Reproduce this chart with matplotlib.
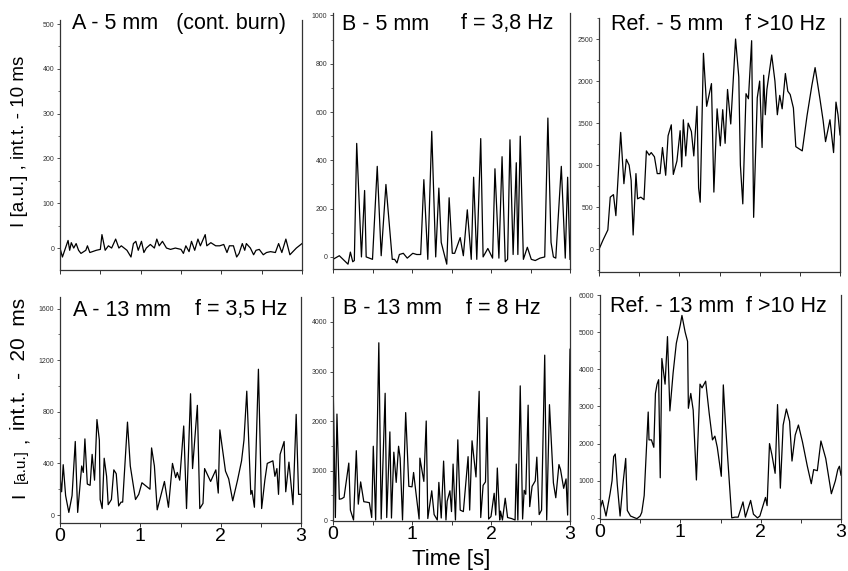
"""Six flame-intensity traces: A, B and reference at 5 mm and 13 mm."""

import matplotlib

matplotlib.use("Agg")
import matplotlib.pyplot as plt
from matplotlib.ticker import MultipleLocator

plt.rcParams["font.family"] = ["Liberation Sans", "DejaVu Sans"]

W, H = 848, 571

# ---- data (time in s, intensity in a.u.) ----
a5_t = [0, .03, .10, .12, .14, .17, .20, .23, .26, .32,
        .34, .37, .45, .50, .52, .56, .60, .64, .69, .73,
        .76, .83, .88, .91, .94, .97, 1.01, 1.04, 1.07, 1.12,
        1.17, 1.20, 1.23, 1.27, 1.32, 1.37, 1.43, 1.50, 1.53, 1.56,
        1.60, 1.63, 1.67, 1.71, 1.74, 1.80, 1.82, 1.87, 1.93, 1.98,
        2.03, 2.07, 2.10, 2.15, 2.19, 2.22, 2.26, 2.29, 2.31, 2.36,
        2.40, 2.43, 2.47, 2.52, 2.56, 2.61, 2.67, 2.71, 2.75, 2.80,
        2.85, 2.93, 3.00]
a5_i = [0, -20, 17, -5, 12, 0, 10, -5, -12, -5,
        5, -10, -5, -3, 30, -5, 5, 0, 20, 0,
        5, -5, -20, 10, 15, -5, 15, -10, 0, 8,
        0, 20, 5, 15, 0, -3, 0, -3, -12, 5,
        -8, 15, -5, 20, 5, 30, 5, 12, 5, 5,
        8, -10, 5, 5, -20, -12, 10, -5, 10, 0,
        -15, -5, -3, -15, -10, -8, -10, 10, -10, 20,
        -15, 0, 10]

b5_t = [0, .08, .19, .22, .25, .27, .30, .36, .40, .42,
        .46, .50, .56, .61, .67, .75, .78, .81, .84, .89,
        .94, 1.01, 1.06, 1.11, 1.15, 1.20, 1.25, 1.30, 1.34, 1.37,
        1.44, 1.47, 1.51, 1.54, 1.61, 1.65, 1.70, 1.75, 1.78, 1.82,
        1.87, 1.90, 1.96, 2.02, 2.05, 2.10, 2.14, 2.18, 2.21, 2.24,
        2.28, 2.32, 2.34, 2.37, 2.41, 2.46, 2.51, 2.56, 2.62, 2.68,
        2.72, 2.76, 2.79, 2.82, 2.89, 2.94, 2.97, 3.00]
b5_i = [-10, 5, -30, 20, -20, -15, 470, 0, 275, 0,
        -5, -10, 375, 5, 300, -10, -10, -25, 10, 15,
        -5, 15, 10, 10, 320, -10, 520, 0, 285, 60,
        -30, 245, 15, 15, 80, 5, 195, -10, 330, -10,
        490, 0, 35, -5, 365, -5, 415, -20, -10, 485,
        10, 390, 10, 500, -10, 40, -10, -15, -5, 0,
        575, 60, 0, -5, 375, -5, 330, -10]

r5_t = [0, .05, .11, .14, .18, .21, .27, .31, .34, .375,
        .40, .425, .46, .48, .52, .56, .59, .625, .65, .69,
        .725, .76, .79, .83, .86, .90, .925, .97, 1.01, 1.03,
        1.05, 1.08, 1.11, 1.15, 1.18, 1.22, 1.24, 1.26, 1.30, 1.34,
        1.40, 1.43, 1.47, 1.51, 1.54, 1.57, 1.60, 1.64, 1.70, 1.74,
        1.76, 1.79, 1.83, 1.86, 1.90, 1.925, 1.97, 2.00, 2.03, 2.05,
        2.07, 2.09, 2.15, 2.19, 2.22, 2.25, 2.28, 2.32, 2.35, 2.38,
        2.42, 2.45, 2.53, 2.59, 2.65, 2.69, 2.75, 2.79, 2.82, 2.875,
        2.92, 2.95, 2.975, 3.00]
r5_i = [0, 110, 230, 620, 650, 400, 1390, 780, 1070, 1000,
        820, 170, 900, 600, 620, 590, 1170, 1120, 1150, 1100,
        900, 900, 1210, 880, 1350, 1480, 890, 1050, 1410, 980,
        1540, 1110, 1500, 1400, 1110, 1700, 730, 560, 2330, 1700,
        1970, 680, 1670, 1230, 1660, 1260, 1900, 1490, 2500, 2050,
        1000, 540, 1850, 1790, 2480, 380, 1800, 2000, 1210, 2070,
        1600, 1900, 2310, 2000, 1600, 1830, 1670, 2090, 1880, 1840,
        1680, 1220, 1170, 1590, 1950, 2160, 1790, 1530, 1280, 1540,
        1150, 1750, 1600, 1360]

a13_t = [0, .02, .04, .07, .11, .15, .19, .22, .27, .29,
         .31, .34, .375, .40, .43, .46, .49, .50, .525, .55,
         .58, .60, .64, .67, .70, .73, .76, .78, .84, .875,
         .94, .98, 1.02, 1.12, 1.14, 1.175, 1.21, 1.30, 1.35, 1.40,
         1.44, 1.46, 1.49, 1.54, 1.575, 1.625, 1.65, 1.71, 1.74, 1.78,
         1.80, 1.875, 1.94, 1.97, 1.99, 2.06, 2.10, 2.15, 2.21, 2.26,
         2.29, 2.325, 2.375, 2.39, 2.42, 2.47, 2.51, 2.55, 2.58, 2.65,
         2.675, 2.70, 2.72, 2.74, 2.79, 2.81, 2.85, 2.90, 2.94, 2.97,
         3.00]
a13_i = [300, 180, 390, 150, 20, 150, 570, 20, 380, 330,
         590, 240, 230, 470, 270, 740, 580, 120, 50, 440,
         300, 80, 120, 350, 320, 70, 100, 100, 720, 380,
         120, 160, 250, 200, 520, 380, 40, 260, 60, 400,
         290, 330, 270, 690, 50, 940, 360, 850, 50, 90,
         360, 260, 350, 170, 660, 340, 280, 110, 270, 420,
         580, 960, 160, 190, 60, 1130, 50, 270, 400, 420,
         300, 360, 160, 470, 570, 180, 410, 80, 780, 160,
         160]

b13_t = [0, .03, .05, .08, .11, .14, .20, .22, .26, .295,
         .32, .35, .39, .43, .46, .49, .51, .54, .58, .61,
         .66, .68, .72, .74, .77, .80, .83, .85, .88, .92,
         .96, 1.00, 1.02, 1.05, 1.09, 1.10, 1.15, 1.18, 1.20, 1.25,
         1.28, 1.32, 1.34, 1.37, 1.40, 1.43, 1.445, 1.48, 1.50, 1.52,
         1.55, 1.58, 1.61, 1.65, 1.71, 1.73, 1.76, 1.81, 1.85, 1.87,
         1.90, 1.93, 1.95, 1.97, 2.00, 2.04, 2.06, 2.08, 2.11, 2.12,
         2.145, 2.18, 2.21, 2.26, 2.305, 2.32, 2.34, 2.37, 2.40, 2.42,
         2.44, 2.47, 2.49, 2.52, 2.56, 2.58, 2.61, 2.64, 2.68, 2.705,
         2.74, 2.79, 2.82, 2.86, 2.88, 2.92, 2.95, 2.97, 3.00]
b13_i = [2900, 50, 2140, 420, 430, 460, 1150, 200, 0, 1400,
         320, 770, 370, 360, 350, 50, 1490, 0, 3580, 20,
         2560, 50, 1780, 40, 1370, 760, 1490, 1250, 0, 2170,
         680, 670, 960, 550, 20, 1250, 780, 2000, 30, 590,
         110, 0, 760, 40, 1190, 0, 380, 590, 170, 1130,
         0, 1620, 200, 170, 1280, 200, 1600, 870, 2600, 50,
         700, 770, 2070, 20, 70, 540, 100, 1050, 0, 180,
         0, 440, 50, 30, 0, 1130, 0, 2710, 20, 600,
         520, 2320, 270, 680, 790, 1270, 110, 200, 3330, 0,
         2330, 750, 450, 1120, 1020, 640, 830, 100, 3450]

r13_t = [0, .03, .075, .125, .15, .17, .19, .215, .25, .29,
         .32, .34, .38, .435, .46, .50, .52, .55, .57, .60,
         .61, .64, .67, .69, .71, .73, .75, .77, .81, .84,
         .87, .91, .95, 1.00, 1.02, 1.06, 1.09, 1.10, 1.13, 1.16,
         1.20, 1.245, 1.27, 1.315, 1.36, 1.40, 1.43, 1.46, 1.51, 1.535,
         1.56, 1.59, 1.64, 1.68, 1.72, 1.78, 1.81, 1.875, 1.91, 1.96,
         1.99, 2.06, 2.08, 2.11, 2.14, 2.18, 2.21, 2.245, 2.28, 2.32,
         2.36, 2.39, 2.43, 2.47, 2.52, 2.58, 2.63, 2.66, 2.705, 2.75,
         2.81, 2.88, 2.93, 2.96, 2.98, 3.00]
r13_i = [230, 470, 50, 650, 1000, 1650, 1720, 900, 50, 1000,
         1600, 200, 50, 0, -20, 50, 150, 600, 1500, 2850,
         2100, 2100, 1900, 3350, 3600, 3720, 1080, 4290, 3600, 4880,
         2880, 3900, 4700, 5200, 5450, 5000, 4750, 2950, 3350, 2900,
         1020, 3600, 3500, 3680, 2800, 2100, 2200, 1900, 1120, 3580,
         2600, 1600, 0, 20, 20, 430, 20, 470, 100, 0,
         50, 550, 330, 2000, 1700, 1200, 3050, 800, 2500, 2930,
         2600, 1530, 2230, 2500, 2050, 1400, 920, 1300, 1270, 2070,
         1600, 650, 1000, 1300, 1390, 1150]

# panel: data, pixel box (x0, x1, y_top, y_bottom), ylim, y major step,
# title y centre (px) and title parts (text, left x in px)
panels = [
    (a5_t, a5_i, (60, 302, 20, 270), (-49, 509), 100, 24,
     [("A - 5 mm   (cont. burn)", 72)]),
    (b5_t, b5_i, (333, 570, 13, 269), (-50, 1010), 200, 24,
     [("B - 5 mm", 342), ("f = 3,8 Hz", 461)]),
    (r5_t, r5_i, (599, 840, 18, 272), (-270, 2750), 500, 25,
     [("Ref. - 5 mm", 611), ("f >10 Hz", 745)]),
    (a13_t, a13_i, (60, 301, 297, 523), (-62, 1690), 400, 310,
     [("A - 13 mm", 73), ("f = 3,5 Hz", 195)]),
    (b13_t, b13_i, (333, 570, 297, 521), (-20, 4505), 1000, 309,
     [("B - 13 mm", 343), ("f = 8 Hz", 466)]),
    (r13_t, r13_i, (600, 841, 295, 519), (-30, 6000), 1000, 306,
     [("Ref. - 13 mm", 610), ("f >10 Hz", 746)]),
]

fig = plt.figure(figsize=(W / 100, H / 100), dpi=100)

for idx, (t, inten, box, ylim, ystep, ty, titles) in enumerate(panels):
    assert len(t) == len(inten)
    x0, x1, y0, y1 = box
    ax = fig.add_axes([x0 / W, 1 - y1 / H, (x1 - x0) / W, (y1 - y0) / H])
    ax.plot(t, inten, color="black", lw=0.9)
    ax.set_xlim(0, 3)
    ax.set_ylim(*ylim)
    ax.spines["top"].set_visible(False)
    for side in ("left", "right", "bottom"):
        ax.spines[side].set_color("#333333")
        ax.spines[side].set_linewidth(0.9)
    ax.xaxis.set_major_locator(MultipleLocator(1))
    ax.xaxis.set_minor_locator(MultipleLocator(0.5))
    ax.yaxis.set_major_locator(MultipleLocator(ystep))
    ax.yaxis.set_minor_locator(MultipleLocator(ystep / 2))
    ax.tick_params(axis="y", which="major", direction="out", length=2.5,
                   width=0.6, labelsize=5, labelcolor="#333333", pad=1.5,
                   color="#333333")
    ax.tick_params(axis="y", which="minor", direction="out", length=1.5,
                   width=0.5, color="#333333")
    ax.tick_params(axis="x", which="both", direction="out", length=3,
                   width=0.7, color="#333333", labelsize=14, pad=0.5)
    if idx < 3:
        ax.tick_params(axis="x", labelbottom=False)
    for text, px in titles:
        fig.text(px / W, 1 - ty / H, text, fontsize=15.5, ha="left",
                 va="center")

fig.text(451 / W, 1 - 559 / H, "Time [s]", fontsize=16, ha="center",
         va="center")

# y labels
fig.text(20 / W, 1 - 141 / H, "I [a.u.] , int.t. - 10 ms", fontsize=13.5,
         rotation=90, ha="center", va="center")
fig.text(20 / W, 1 - 495 / H, "I", fontsize=14, rotation=90, ha="center",
         va="center")
fig.text(21 / W, 1 - 466 / H, "[a.u.]", fontsize=11, rotation=90,
         ha="center", va="center")
fig.text(22 / W, 1 - 440 / H, ",", fontsize=14, rotation=90, ha="center",
         va="center")
fig.text(20 / W, 1 - 364 / H, "int.t.  -  20  ms", fontsize=15, rotation=90,
         ha="center", va="center")

fig.savefig("out.png", dpi=100)
